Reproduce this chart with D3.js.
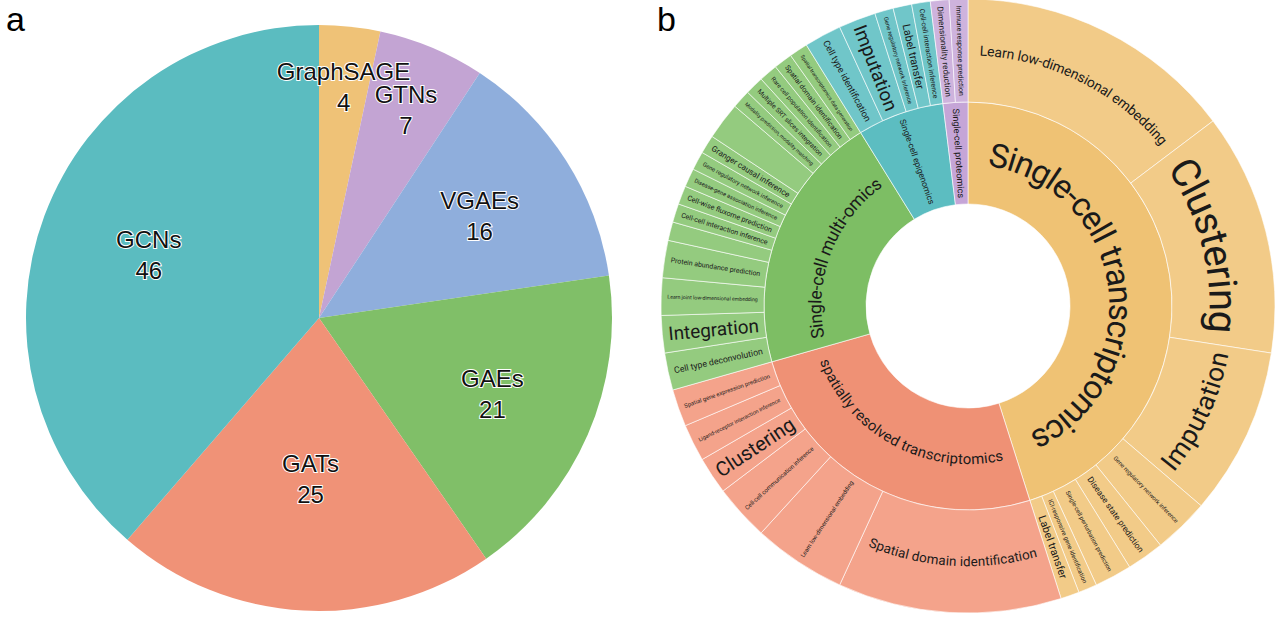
<!DOCTYPE html>
<html>
<head>
<meta charset="utf-8">
<script src="https://cdn.jsdelivr.net/npm/d3@7"></script>
<style>
  body { margin: 0; background: #fff; }
  svg { display: block; }
</style>
</head>
<body>
<div id="chart"></div>
<script>
// panel a: GNN model families
const modelNames = ["GraphSAGE", "GTNs", "VGAEs", "GAEs", "GATs", "GCNs"];
const modelCounts = [4, 7, 16, 21, 25, 46];
const modelColors = ["#EFC277", "#C3A4D3", "#8FAEDC", "#80BF68", "#F09277", "#5BBCC0"];

// panel b: omics types (inner ring) and tasks (outer ring)
const omicsNames = ["Single-cell transcriptomics", "spatially resolved transcriptomics",
    "Single-cell multi-omics", "Single-cell epigenomics", "Single-cell proteomics"];
const omicsColors = ["#EFC274", "#EF9175", "#7DBE64", "#5CBDC1", "#C5A5D7"];
const taskColors = ["#F2CB88", "#F4A38B", "#94CB7F", "#70C6C9", "#CEB3DD"];

const scTasks = ["Learn low-dimensional embedding", "Clustering", "Imputation",
    "Gene regulatory network inference", "Disease state prediction",
    "Single-cell perturbation prediction", "ICI-responsive gene identification", "Label transfer"];
const scCounts = [15, 13, 9, 3, 2, 2, 1, 1];

const srtTasks = ["Spatial domain identification", "Learn low-dimensional embedding",
    "Cell-cell communication inference", "Clustering", "Ligand-receptor interaction inference",
    "Spatial gene expression prediction"];
const srtCounts = [12, 5, 3, 2, 2, 2];

const multiTasks = ["Cell type deconvolution", "Integration", "Learn joint low-dimensional embedding",
    "Protein abundance prediction", "", "Cell-cell interaction inference", "Cell-wise fluxome prediction",
    "Disease-gene association inference", "Gene regulatory network inference", "Granger causal inference",
    "", "Modality prediction, modality matching", "Multiple SRT slices integration",
    "Rare cell population identification", "Spatial domain identification",
    "Spatial transcriptomics data generation"];
const multiCounts = [2, 2, 2, 2, 1, 1, 1, 1, 1, 1, 2, 1, 1, 1, 1, 1];

const epiTasks = ["Cell type identification", "Imputation", "Gene regulatory network inference",
    "Label transfer", "Cell-cell interaction inference"];
const epiCounts = [2, 2, 1, 1, 1];

const protTasks = ["Dimensionality reduction", "Immune response prediction"];
const protCounts = [1, 1];

const taskLists = [[scTasks, scCounts], [srtTasks, srtCounts], [multiTasks, multiCounts],
    [epiTasks, epiCounts], [protTasks, protCounts]];

const width = 1280, height = 625;
const FONT = "Roboto, 'Open Sans', sans-serif";

const svg = d3.select("#chart").append("svg")
    .attr("width", width)
    .attr("height", height);

// panel letters
svg.append("text").attr("x", 6).attr("y", 31)
    .attr("font-family", "'Liberation Sans', Arial, sans-serif").attr("font-size", 34).text("a");
svg.append("text").attr("x", 657).attr("y", 31)
    .attr("font-family", "'Liberation Sans', Arial, sans-serif").attr("font-size", 34).text("b");

// ---------- pie ----------
function drawPie() {
    const cx = 319, cy = 318, R = 293;
    const labelR = [0.795, 0.77, 0.65, 0.645, 0.55, 0.62]; // label distance as share of radius
    const g = svg.append("g").attr("transform", `translate(${cx},${cy})`);
    const pie = d3.pie().sort(null).value(d => d.value);
    const rows = modelNames.map((n, i) => ({ name: n, value: modelCounts[i], i }));
    const arcs = pie(rows);
    const arc = d3.arc().innerRadius(0).outerRadius(R);

    g.selectAll("path.slice")
        .data(arcs)
        .enter().append("path")
        .attr("class", "slice")
        .attr("d", arc)
        .attr("fill", d => modelColors[d.data.i]);

    const labels = g.selectAll("g.lab")
        .data(arcs)
        .enter().append("g")
        .attr("class", "lab")
        .attr("transform", d => {
            const a = (d.startAngle + d.endAngle) / 2;
            const r = R * labelR[d.data.i];
            return `translate(${r * Math.sin(a)},${-r * Math.cos(a)})`;
        });
    [["name", -15], ["value", 16]].forEach(([key, dy]) => {
        labels.append("text")
            .attr("y", dy)
            .attr("dy", "0.35em")
            .attr("text-anchor", "middle")
            .attr("font-family", "'Liberation Sans', Arial, sans-serif")
            .attr("font-size", 24)
            .attr("fill", "#111")
            .attr("stroke", "#fff")
            .attr("stroke-width", 2)
            .attr("paint-order", "stroke")
            .text(d => d.data[key]);
    });
}

// ---------- sunburst ----------
function drawSunburst() {
    const cx = 968, cy = 306;
    const rad = [0, 102, 204, 307];
    const g = svg.append("g").attr("transform", `translate(${cx},${cy})`);

    const data = {
        name: "root",
        children: omicsNames.map((n, i) => ({
            name: n, gi: i,
            children: taskLists[i][0].map((t, j) => ({ name: t, gi: i, value: taskLists[i][1][j] }))
        }))
    };
    const root = d3.hierarchy(data).sum(d => d.value || 0);
    d3.partition().size([2 * Math.PI, 3])(root);
    const nodes = root.descendants().filter(d => d.depth > 0);

    const arc = d3.arc()
        .startAngle(d => d.x0)
        .endAngle(d => d.x1)
        .innerRadius(d => rad[d.depth])
        .outerRadius(d => rad[d.depth + 1]);

    g.selectAll("path.seg")
        .data(nodes)
        .enter().append("path")
        .attr("class", "seg")
        .attr("d", arc)
        .attr("fill", d => d.depth === 1 ? omicsColors[d.data.gi] : taskColors[d.data.gi])
        .attr("stroke", "#fff")
        .attr("stroke-opacity", 0.6)
        .attr("stroke-width", 1);

    // text measurement
    const meas = svg.append("text").attr("font-family", FONT).attr("font-size", 10)
        .attr("visibility", "hidden");
    function emWidth(s) {
        meas.text(s);
        return meas.node().getComputedTextLength() / 10;
    }

    const defs = svg.append("defs");
    const pt = (a, r) => [r * Math.sin(a), -r * Math.cos(a)];

    nodes.forEach((d, k) => {
        const name = d.data.name;
        if (!name) return;
        const r0 = rad[d.depth], r1 = rad[d.depth + 1];
        const span = d.x1 - d.x0, t = r1 - r0, rm = (r0 + r1) / 2;
        const w = emWidth(name);
        const maxF = 40;
        const tanF = Math.min(t * 0.62, span * rm * 0.9 / w);
        const radF = Math.min(span * (r0 + t * 0.15) * 0.8, t * 0.88 / w);
        const mid = (d.x0 + d.x1) / 2;
        if (tanF >= radF) {
            const f = Math.min(tanF, maxF);
            const flip = mid > Math.PI / 2 && mid < 3 * Math.PI / 2;
            const a0 = flip ? d.x1 : d.x0, a1 = flip ? d.x0 : d.x1;
            const p0 = pt(a0, rm), p1 = pt(a1, rm);
            const large = span > Math.PI ? 1 : 0;
            const id = "lp" + k;
            defs.append("path").attr("id", id)
                .attr("d", `M${p0[0]},${p0[1]} A${rm},${rm} 0 ${large} ${flip ? 0 : 1} ${p1[0]},${p1[1]}`);
            g.append("text")
                .attr("font-family", FONT)
                .attr("font-size", f)
                .attr("fill", "#1a1a1a")
                .attr("dy", "0.35em")
                .append("textPath")
                .attr("href", "#" + id)
                .attr("startOffset", "50%")
                .attr("text-anchor", "middle")
                .text(name);
        } else {
            const f = Math.min(radF, maxF);
            const p = pt(mid, rm);
            const deg = mid * 180 / Math.PI;
            const rot = mid < Math.PI ? deg - 90 : deg + 90;
            g.append("text")
                .attr("transform", `translate(${p[0]},${p[1]}) rotate(${rot})`)
                .attr("text-anchor", "middle")
                .attr("dy", "0.35em")
                .attr("font-family", FONT)
                .attr("font-size", f)
                .attr("fill", "#1a1a1a")
                .text(name);
        }
    });
    meas.remove();
}

drawPie();
drawSunburst();
</script>
</body>
</html>
